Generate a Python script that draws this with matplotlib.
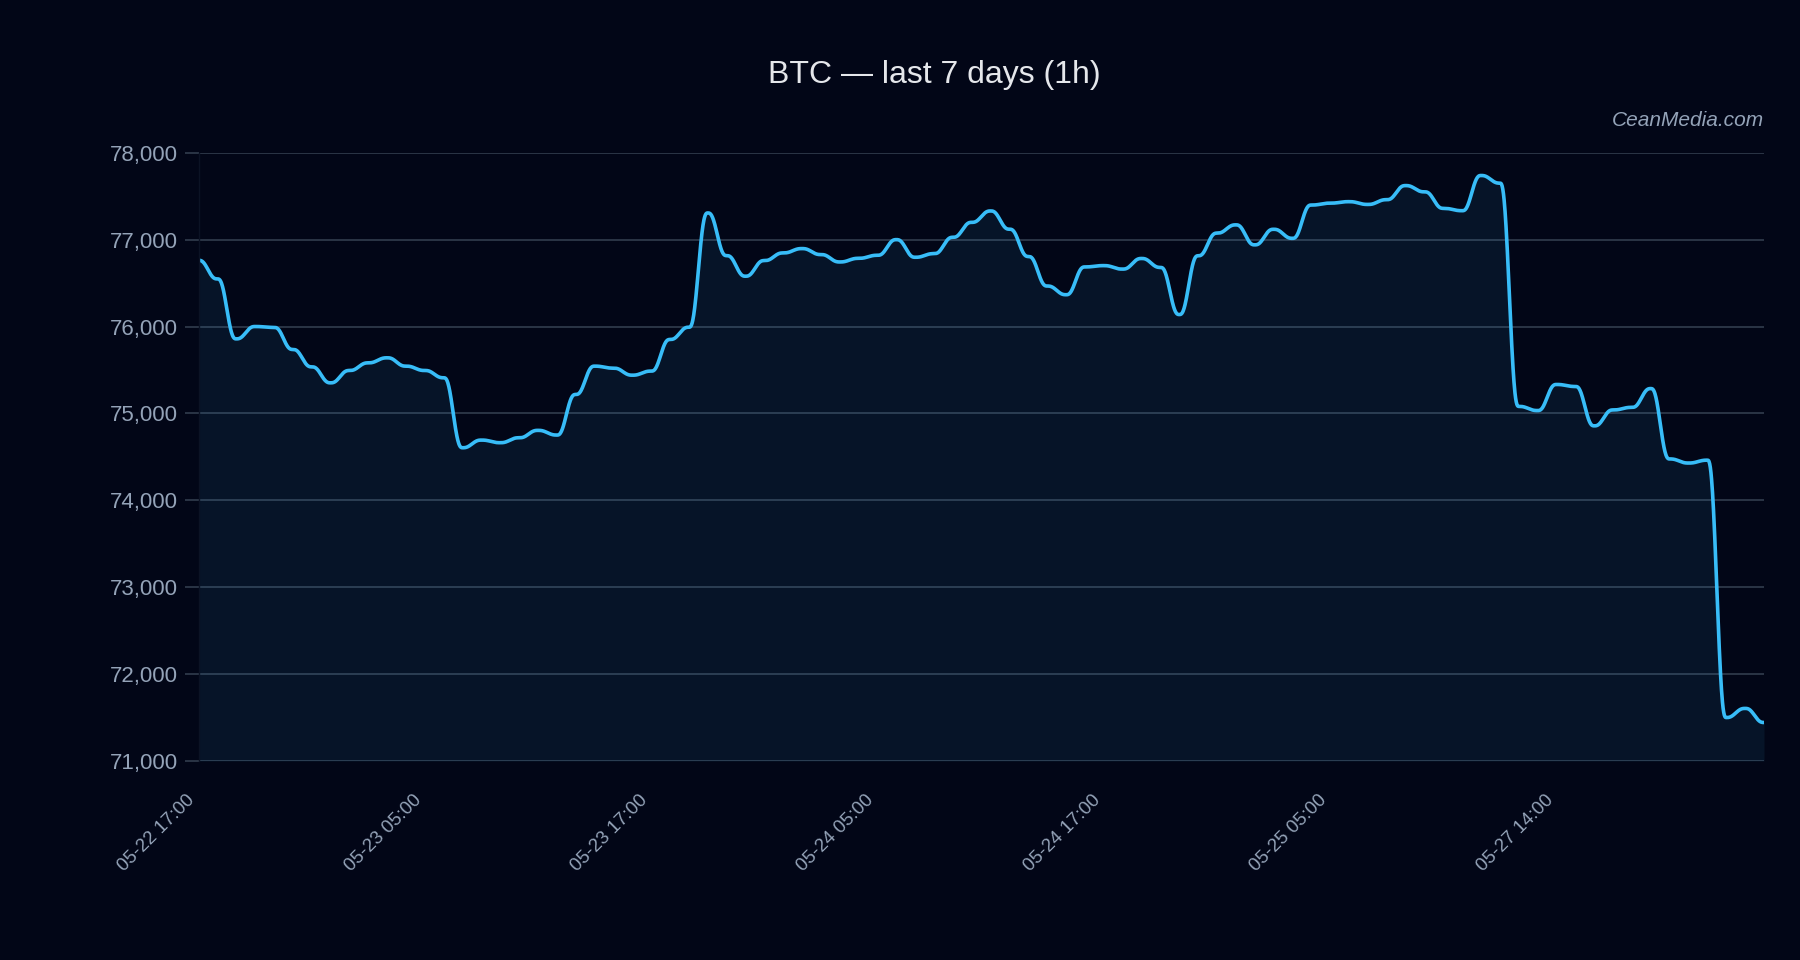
import numpy as np
import matplotlib
matplotlib.use("Agg")
import matplotlib.pyplot as plt

# hourly BTC closes (84 points)
price = [76762, 76548, 75858, 76000, 75990, 75736, 75536, 75352, 75494, 75582,
         75640, 75544, 75494, 75410, 74605, 74693, 74663, 74720, 74805, 74751,
         75218, 75544, 75521, 75440, 75487, 75851, 75992, 77307, 76816, 76579,
         76759, 76847, 76897, 76828, 76743, 76785, 76820, 77000, 76797, 76839,
         77027, 77199, 77330, 77120, 76806, 76466, 76366, 76686, 76701, 76661,
         76783, 76680, 76138, 76814, 77075, 77170, 76940, 77119, 77015, 77398,
         77420, 77437, 77405, 77460, 77622, 77550, 77360, 77333, 77738, 77650,
         75081, 75033, 75333, 75310, 74857, 75040, 75070, 75286, 74476, 74429,
         74462, 71500, 71605, 71443]
tick_pos = [0, 12, 24, 36, 48, 60, 72]
tick_labels = ["05-22 17:00", "05-23 05:00", "05-23 17:00", "05-24 05:00",
               "05-24 17:00", "05-25 05:00", "05-27 14:00"]
y_ticks = [71000, 72000, 73000, 74000, 75000, 76000, 77000, 78000]

BG = "#020617"
LINE = "#38bdf8"
GRID = "#2b3546"
MUTED = "#94a3b8"

plt.rcParams["font.family"] = ["Liberation Sans", "DejaVu Sans"]

# smooth curve with flat tangents at every node
p = np.asarray(price, dtype=float)
n = len(p)
t = np.linspace(0, 1, 60)[:-1]
ease = t ** 3 * (t * (6 * t - 15) + 10)
xs = np.concatenate([i + t for i in range(n - 1)] + [[n - 1]])
ys = np.concatenate([p[i] + (p[i + 1] - p[i]) * ease for i in range(n - 1)] + [[p[-1]]])

fig = plt.figure(figsize=(18, 9.6), dpi=100, facecolor=BG)
ax = fig.add_axes([0.1103, 0.2073, 0.8697, 0.6336])
ax.set_facecolor(BG)

ax.fill_between(xs, ys, y_ticks[0], color=LINE, alpha=0.08, linewidth=0)
ax.plot(xs, ys, color=LINE, lw=2.6, solid_capstyle="round")

ax.set_xlim(0, n - 1)
ax.set_ylim(y_ticks[0], y_ticks[-1])
ax.set_yticks(y_ticks)
ax.set_yticklabels([f"{v:,}" for v in y_ticks])
ax.set_xticks(tick_pos)
ax.set_xticklabels(tick_labels, rotation=45, ha="right")

ax.grid(axis="y", color=GRID, lw=1.4)
ax.set_axisbelow(True)
for s in ["top", "right", "bottom"]:
    ax.spines[s].set_visible(False)
ax.spines["left"].set_color("#0b1224")
ax.spines["left"].set_linewidth(1.0)

ax.tick_params(axis="y", colors=GRID, labelcolor=MUTED, labelsize=16,
               length=10, width=1.4, pad=5)
ax.tick_params(axis="x", length=0, labelcolor=MUTED, labelsize=13.5, pad=22)

fig.text(0.519, 0.922, "BTC \u2014 last 7 days (1h)", ha="center", va="center",
         color="#e5e7eb", fontsize=23)
fig.text(0.98, 0.875, "CeanMedia.com", ha="right", va="center",
         color=MUTED, fontsize=15, style="italic")

fig.savefig("out.png", dpi=100, facecolor=BG)
